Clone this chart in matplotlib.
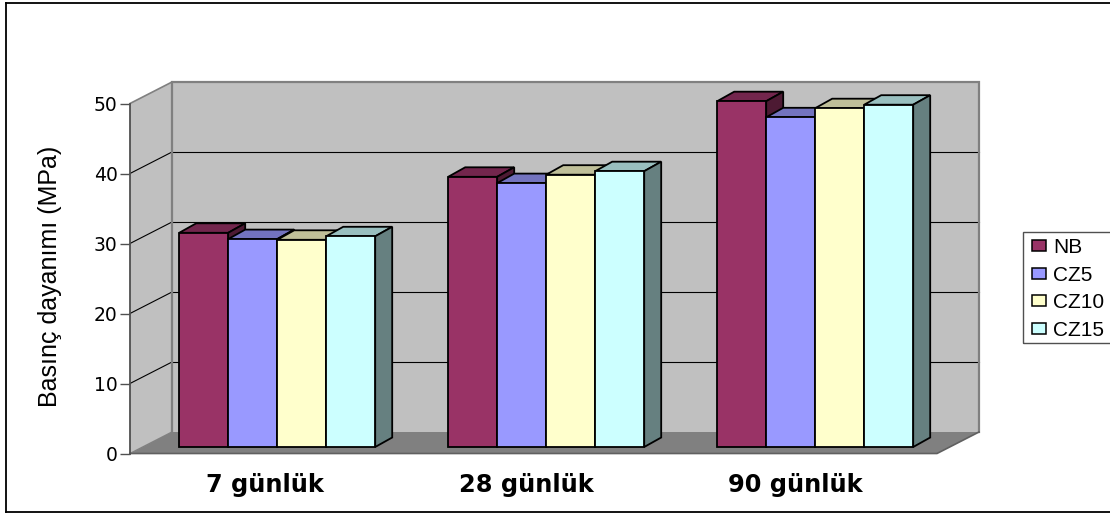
import matplotlib
matplotlib.use("Agg")
import matplotlib.pyplot as plt
from matplotlib.colors import to_rgb
from matplotlib.lines import Line2D
from matplotlib.patches import Polygon, Patch, Rectangle

# Compressive strength by curing age and mix
ages = ["7 günlük", "28 günlük", "90 günlük"]
mixes = ["NB", "CZ5", "CZ10", "CZ15"]
nb = [30.6, 38.6, 49.4]
cz5 = [29.7, 37.7, 47.1]
cz10 = [29.6, 38.9, 48.4]
cz15 = [30.1, 39.4, 48.9]
series = [nb, cz5, cz10, cz15]
colors = ["#993366", "#9999FF", "#FFFFCC", "#CCFFFF"]
yticks = [0, 10, 20, 30, 40, 50]

W, H = 1110, 514
fig = plt.figure(figsize=(W / 100, H / 100), dpi=100, facecolor="white")

# The axes span the front plane of the 3D box
left, right, bottom, top = 130, 937, 453.5, 103.5
ax = fig.add_axes([left / W, 1 - bottom / H, (right - left) / W, (bottom - top) / H])
ax.set_xlim(0, 3)
ax.set_ylim(0, 50)
ax.patch.set_visible(False)
px_x = 3 / (right - left)
px_y = 50 / (bottom - top)

# Oblique offsets: full box depth, bar plane position, bar depth
box_dx, box_dy = 42 * px_x, 21.5 * px_y
plane_dx, plane_dy = 12.7 * px_x, 6.5 * px_y
bar_dx, bar_dy = 17 * px_x, 9.5 * px_y
bar_w = 49 * px_x


def poly(points, face, edge="none", lw=0.0, z=1):
    ax.add_patch(Polygon(points, closed=True, facecolor=face, edgecolor=edge,
                         linewidth=lw, zorder=z, clip_on=False, joinstyle="miter"))


def shade(color, k):
    return tuple(c * k for c in to_rgb(color))


wall = "#C0C0C0"
edge_gray = "#808080"
poly([(0, 0), (box_dx, box_dy), (3 + box_dx, box_dy), (3, 0)], edge_gray)
poly([(box_dx, box_dy), (3 + box_dx, box_dy), (3 + box_dx, 50 + box_dy), (box_dx, 50 + box_dy)], wall)
poly([(0, 0), (box_dx, box_dy), (box_dx, 50 + box_dy), (0, 50)], wall)

for v in yticks[1:-1]:
    ax.plot([0, box_dx], [v, v + box_dy], color="black", lw=0.8, zorder=1.5, clip_on=False)
    ax.plot([box_dx, 3 + box_dx], [v + box_dy, v + box_dy], color="black", lw=0.8,
            zorder=1.5, clip_on=False)
ax.plot([box_dx, box_dx, 3 + box_dx, 3 + box_dx], [box_dy, 50 + box_dy, 50 + box_dy, box_dy],
        color=edge_gray, lw=1.6, zorder=1.6, clip_on=False, solid_joinstyle="miter")
ax.plot([0, box_dx], [50, 50 + box_dy], color=edge_gray, lw=1.2, zorder=1.6, clip_on=False)
ax.plot([0, box_dx], [0, box_dy], color=edge_gray, lw=1.0, zorder=1.6, clip_on=False)
ax.plot([0, 3, 3 + box_dx], [0, 0, box_dy], color="#606060", lw=1.2, zorder=1.6, clip_on=False)

# Bars are painted left to right so each one covers its neighbour's side face
edge_lw = 1.3
z = 3.0
for g in range(len(ages)):
    x0 = g + 0.5 + plane_dx - 2 * bar_w
    for s, vals in enumerate(series):
        x = x0 + s * bar_w
        y = plane_dy + vals[g]
        c = colors[s]
        poly([(x, y), (x + bar_dx, y + bar_dy), (x + bar_w + bar_dx, y + bar_dy), (x + bar_w, y)],
             shade(c, 0.75), "black", edge_lw, z)
        poly([(x + bar_w, plane_dy), (x + bar_w + bar_dx, plane_dy + bar_dy),
              (x + bar_w + bar_dx, y + bar_dy), (x + bar_w, y)],
             shade(c, 0.5), "black", edge_lw, z)
        ax.bar(x, vals[g], width=bar_w, bottom=plane_dy, align="edge", color=c,
               edgecolor="black", linewidth=edge_lw, zorder=z + 0.1, clip_on=False)
        z += 0.2

for name, sp in ax.spines.items():
    sp.set_visible(name == "left")
ax.spines["left"].set_color("#505050")
ax.spines["left"].set_linewidth(1.3)

ax.set_yticks(yticks)
ax.tick_params(axis="y", length=7, width=1.0, color="#505050", pad=2)
for t in ax.get_yticklabels():
    t.set_fontfamily("DejaVu Sans")
    t.set_fontsize(13.5)
    t.set_color("black")

# Category labels sit slightly off the group centres
ax.set_xticks([0.502, 1.474, 2.472])
ax.set_xticklabels(ages, fontfamily="DejaVu Sans", fontweight="bold", fontsize=17.3)
ax.tick_params(axis="x", length=0, pad=14)

fig.text(50 / W, 1 - 276 / H, "Basınç dayanımı (MPa)", rotation=90, ha="center", va="center",
         fontfamily="Liberation Sans", fontsize=18, color="black")

# Legend box runs off the right edge of the canvas
handles = [Patch(facecolor=c, edgecolor="black", linewidth=1.1) for c in colors]
ax.legend(handles, mixes, loc="upper left", bbox_to_anchor=(1032 / W, 1 - 238 / H),
          bbox_transform=fig.transFigure, frameon=False, borderaxespad=0, borderpad=0,
          handlelength=0.68, handleheight=0.45, handletextpad=0.33, labelspacing=0.41,
          prop={"family": "Liberation Sans", "size": 15})
fig.add_artist(Rectangle((1023 / W, 1 - 343 / H), 100 / W, 111 / H, transform=fig.transFigure,
                         facecolor="none", edgecolor="#505050", linewidth=1.0))

# Outer chart border: top, left and bottom edges are on the canvas
for xs, ys in [((6, 1110), (3, 3)), ((6, 6), (3, 512)), ((6, 1110), (512, 512))]:
    fig.add_artist(Line2D([x / W for x in xs], [1 - y / H for y in ys], color="black", lw=1.3,
                          transform=fig.transFigure))

fig.savefig("out.png", dpi=100)
